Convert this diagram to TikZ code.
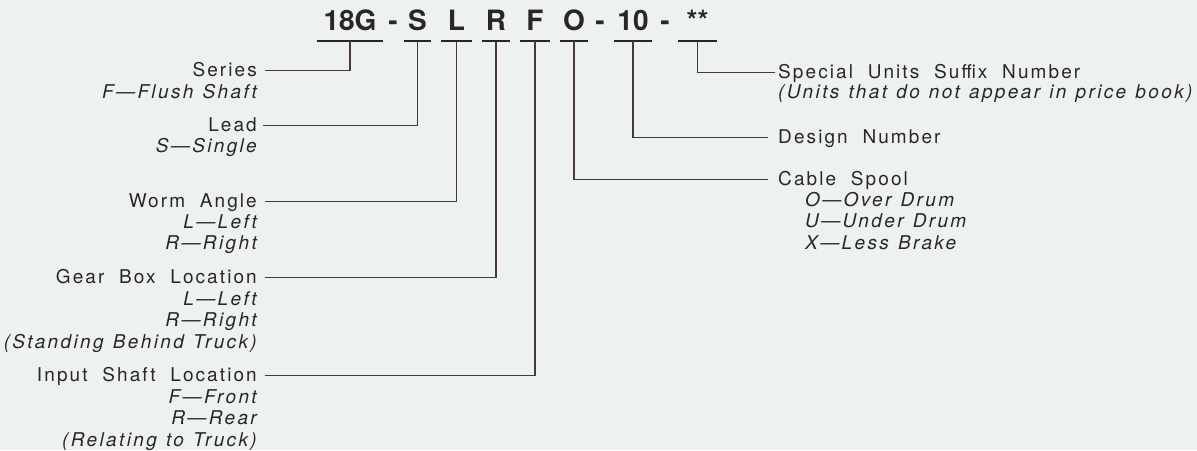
\documentclass[tikz,border=0pt]{standalone}
\usepackage{fontspec}
\setmainfont{TeX Gyre Heros}
\newfontfamily\labelfont{TeX Gyre Heros}[LetterSpace=11,WordSpace=2]
\newfontfamily\choicefont{TeX Gyre Heros}[LetterSpace=12.5,WordSpace=1.2]
\usepackage{xcolor}
\usetikzlibrary{positioning}
\definecolor{paper}{RGB}{238,242,239}
\definecolor{ink}{RGB}{42,38,38}
\definecolor{leadcol}{RGB}{72,58,58}
\tikzset{
code box/.style={font=\fontsize{28}{28}\selectfont\bfseries, text=ink, inner sep=0pt,
                 text height=20pt, text depth=11pt, minimum width=#1, anchor=base},
dash sign/.style={font=\fontsize{28}{28}\selectfont\bfseries, text=ink, inner sep=0pt, anchor=base},
heading/.style={font=\labelfont\fontsize{19}{21.5}\selectfont, text=ink, inner sep=0pt,
                text height=11pt, text depth=0pt},
choices/.style={font=\choicefont\itshape\fontsize{19}{21.5}\selectfont, text=ink, inner sep=0pt,
                execute at begin node={\rule{0pt}{14pt}}},
leader/.style={draw=leadcol, line width=1.3pt}
}

\begin{document}
\begin{tikzpicture}[x=1pt,y=-1pt]
\fill[paper] (0,0) rectangle (1197,450);
\useasboundingbox (0,0) rectangle (1197,450);

% Code
\node[code box=66pt] (code_18g) at (350,30) {18G};
\node[dash sign] (dash_a) at (393,30) {-};
\node[code box=27pt] (code_s) at (417.5,30) {S};
\node[code box=31pt] (code_l) at (456.5,30) {L};
\node[code box=28pt] (code_r) at (496,30) {R};
\node[code box=30pt] (code_f) at (535,30) {F};
\node[code box=28pt] (code_o) at (574,30) {O};
\node[dash sign] (dash_b) at (600,30) {-};
\node[code box=38pt] (code_10) at (633,30) {10};
\node[dash sign] (dash_c) at (665,30) {-};
\node[code box=39pt] (code_stars) at (697.5,30) {**};

\foreach \c in {code_18g,code_s,code_l,code_r,code_f,code_o,code_10,code_stars}
  \draw[ink, line width=2pt] (\c.south west) -- (\c.south east);

% Left labels
\node[heading, anchor=base east] (series) at (257,76) {Series};
\node[choices, align=right, anchor=north east] (series_opts) at (257,84) {F—Flush Shaft};
\node[heading, anchor=base east] (lead) at (257,131) {Lead};
\node[choices, align=right, anchor=north east] (lead_opts) at (257,138) {S—Single};
\node[heading, anchor=base east] (worm) at (257,207) {Worm Angle};
\node[choices, align=right, anchor=north east] (worm_opts) at (257,214) {L—Left\\R—Right};
\node[heading, anchor=base east] (gearbox) at (257,283) {Gear Box Location};
\node[choices, align=right, anchor=north east] (gearbox_opts) at (257,291)
  {L—Left\\R—Right\\(Standing Behind Truck)};
\node[heading, anchor=base east] (input) at (257,381) {Input Shaft Location};
\node[choices, align=right, anchor=north east] (input_opts) at (257,389)
  {F—Front\\R—Rear\\(Relating to Truck)};

% Right labels
\node[heading, anchor=base west] (special) at (778,78) {Special Units Suffix Number};
\node[choices, align=left, anchor=north west] (special_opts) at (778,84)
  {(Units that do not appear in price book)};
\node[heading, anchor=base west] (design) at (778,143) {Design Number};
\node[heading, anchor=base west] (cable) at (778,185) {Cable Spool};
\node[choices, align=left, anchor=north west] (cable_opts) at (805,192)
  {O—Over Drum\\U—Under Drum\\X—Less Brake};

% Leaders
\draw[leader] (code_18g.south) |- ([xshift=8pt]series.east);
\draw[leader] (code_s.south) |- ([xshift=6pt]lead.east);
\draw[leader] (code_l.south) |- ([xshift=8pt]worm.east);
\draw[leader] (code_r.south) |- ([xshift=8pt]gearbox.east);
\draw[leader] (code_f.south) |- ([xshift=8pt]input.east);
\draw[leader] (code_o.south) |- ([xshift=-10pt]cable.west);
\draw[leader] (code_10.south) |- ([xshift=-10pt]design.west);
\draw[leader] (code_stars.south) |- ([xshift=-3pt]special.west);

\end{tikzpicture}
\end{document}
